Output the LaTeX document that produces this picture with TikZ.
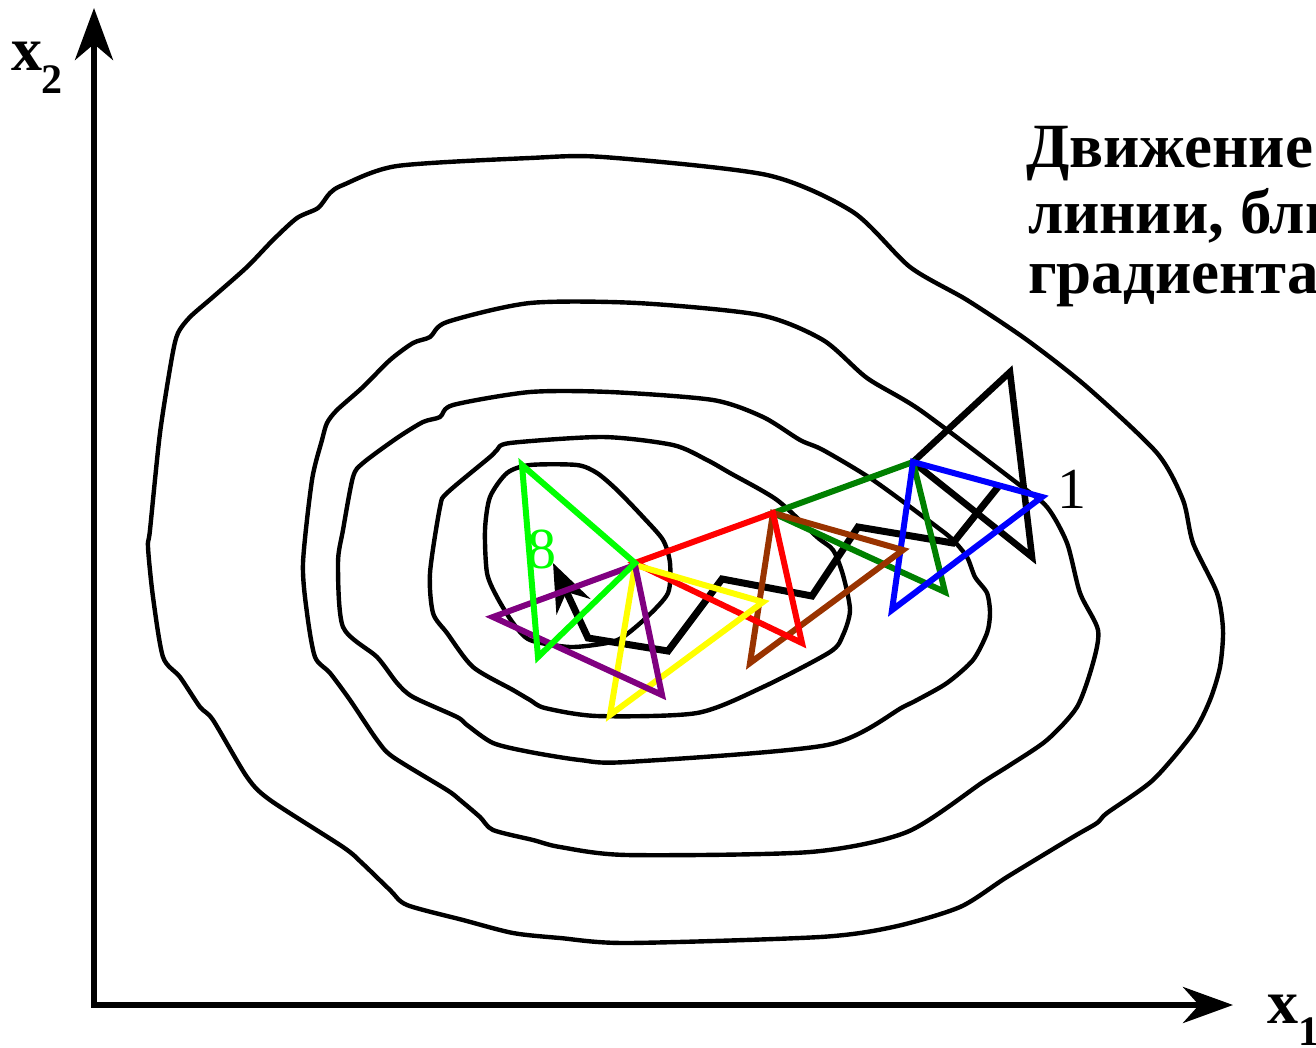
\documentclass[tikz,border=0pt]{standalone}
\usepackage{fontspec}
\setmainfont{Liberation Serif}
\usetikzlibrary{arrows.meta}
\definecolor{brn}{RGB}{153,51,0}
\definecolor{dgreen}{RGB}{0,128,0}
\definecolor{purp}{RGB}{128,0,128}
\definecolor{lgreen}{RGB}{0,255,0}
\definecolor{yel}{RGB}{255,255,0}
\begin{document}
\begin{tikzpicture}[x=1pt,y=-1pt,
  contour/.style={line width=4.4pt, line join=round},
  tri/.style={line width=6pt, line join=miter},
  lbl/.style={anchor=base west, inner sep=0pt, outer sep=0pt},
  axis/.style={line width=6pt, line join=miter, {Stealth[length=52pt,width=38pt,inset=16pt]}-{Stealth[length=50pt,width=36pt,inset=16pt]}}
]
\useasboundingbox (0,0) rectangle (1316,1047);
\clip (0,0) rectangle (1316,1047);
% contours
\draw[contour] plot[smooth cycle, tension=0.45] coordinates {(343,185) (397,166) (530,158) (603,157) (767,175) (853,212) (910,267) (967,300) (1027,340) (1087,387) (1157,453) (1183,500) (1193,543) (1217,593) (1223,630) (1220,667) (1210,700) (1193,733) (1153,780) (1107,813) (1097,823) (1073,837) (1007,877) (960,907) (893,927) (820,937) (627,943) (560,938) (513,933) (463,920) (407,905) (390,890) (362,863) (343,847) (270,800) (247,777) (213,720) (200,707) (180,677) (163,657) (153,597) (148,547) (150,530) (160,433) (172,357) (178,333) (190,317) (213,297) (247,267) (273,240) (297,218) (318,208) (330,193)};
\draw[contour] plot[smooth cycle, tension=0.45] coordinates {(322,440) (327,423) (337,410) (363,387) (390,360) (413,343) (430,337) (447,322) (530,303) (637,303) (760,315) (823,340) (867,378) (920,410) (1017,483) (1047,507) (1067,543) (1080,593) (1098,630) (1093,663) (1077,707) (1047,740) (1010,765) (983,782) (907,832) (810,852) (627,855) (560,847) (533,840) (493,830) (480,817) (460,800) (447,790) (393,757) (377,740) (350,700) (330,673) (315,657) (307,613) (303,563) (312,480)};
\draw[contour] plot[smooth cycle, tension=0.45] coordinates {(397,438) (423,422) (440,417) (453,405) (530,392) (610,392) (713,400) (763,417) (800,440) (823,450) (873,480) (937,527) (953,540) (967,557) (975,577) (987,593) (990,613) (987,633) (973,660) (947,683) (917,700) (903,707) (827,745) (627,762) (580,760) (530,752) (493,743) (467,725) (457,717) (413,697) (397,683) (377,657) (343,627) (338,563) (343,530) (353,477) (363,463)};
\draw[contour] plot[smooth cycle, tension=0.45] coordinates {(497,450) (510,443) (603,437) (673,445) (707,460) (730,473) (777,500) (817,537) (833,550) (843,575) (850,610) (843,635) (830,652) (763,687) (697,713) (597,716) (545,708) (530,700) (513,690) (473,667) (447,633) (433,613) (430,573) (440,507) (447,493) (490,457)};
\draw[contour] plot[smooth cycle, tension=0.45] coordinates {(485,530) (490,497) (507,473) (530,465) (577,465) (597,473) (617,490) (643,517) (663,540) (670,563) (668,593) (647,617) (623,637) (607,643) (570,647) (530,640) (513,623) (497,597) (487,573)};
% axes
\coordinate (O) at (94,1005);
\coordinate (ytip) at (94,8);
\coordinate (xtip) at (1233,1005);
\draw[axis] (ytip) -- (O) -- (xtip);
% black start simplex and path
\draw[tri, line width=6.5pt] (1010,372) -- (913,462) -- (1032,557) -- cycle;
\draw[line width=7pt, line join=miter, -{Stealth[length=48pt,width=37pt,inset=16pt]}]
  (998,487) -- (953,543) -- (858,527) -- (812,596) -- (722,579) -- (668,651) -- (588,638) -- (553,563);
% simplices
\draw[tri, dgreen] (773,513) -- (913,462) -- (945,592) -- cycle;
\draw[tri, blue] (913,462) -- (1042,497) -- (892,610) -- cycle;
\draw[tri, brn] (773,513) -- (903,550) -- (750,663) -- cycle;
\draw[tri, red] (635,563) -- (773,513) -- (802,643) -- cycle;
\draw[tri, yel] (635,565) -- (763,602) -- (610,715) -- cycle;
\draw[tri, purp] (635,565) -- (662,695) -- (493,617) -- cycle;
\draw[tri, lgreen] (522,465) -- (635,563) -- (538,657) -- cycle;
% labels
\node[lbl, font=\fontsize{58}{58}\selectfont] (n1) at (1057,508) {1};
\node[lbl, font=\fontsize{58}{58}\selectfont, text=lgreen] (n8) at (527,568) {8};
\node[lbl, font=\bfseries\fontsize{62}{62}\selectfont] (xa) at (12,70) {x};
\node[lbl, font=\bfseries\fontsize{42}{42}\selectfont] (xa2) at (41,93) {2};
\node[lbl, font=\bfseries\fontsize{62}{62}\selectfont] (xb) at (1267,1023) {x};
\node[lbl, font=\bfseries\fontsize{42}{42}\selectfont] (xb1) at (1298,1045) {1};
\node[lbl, font=\bfseries\fontsize{63}{63}\selectfont] (t1) at (1026,167) {Движение};
\node[lbl, font=\bfseries\fontsize{63}{63}\selectfont] (t2) at (1028,233) {линии, бли};
\node[lbl, font=\bfseries\fontsize{63}{63}\selectfont] (t3) at (1028,293) {градиента};
\end{tikzpicture}
\end{document}
